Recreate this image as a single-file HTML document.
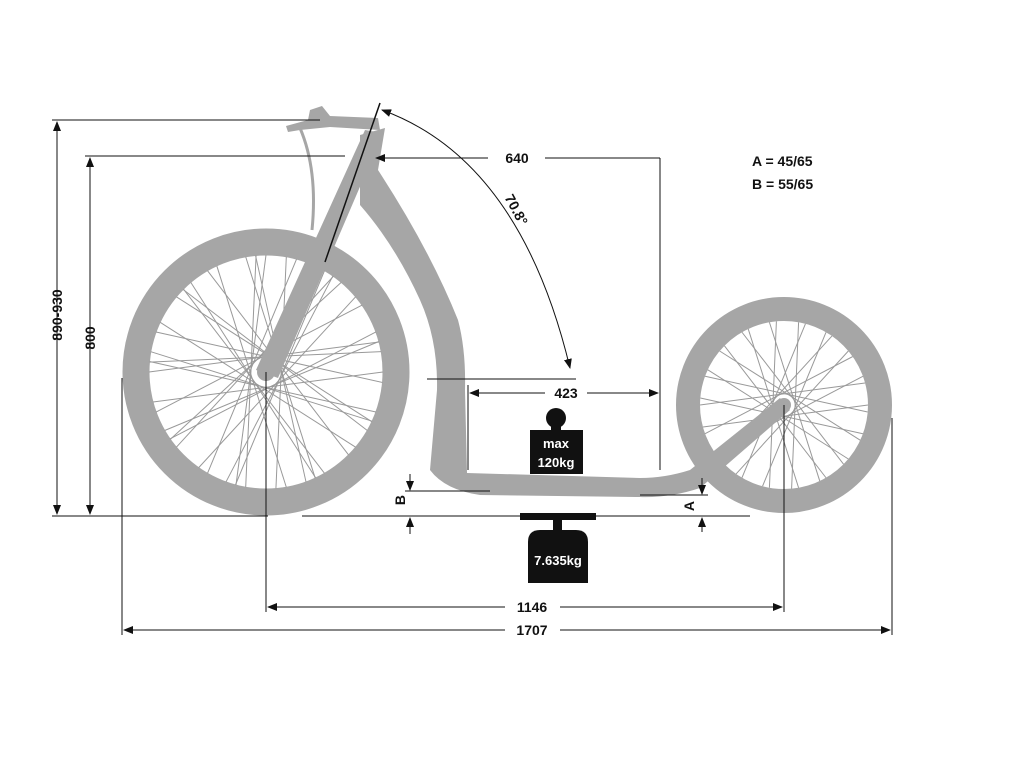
<!DOCTYPE html>
<html><head><meta charset="utf-8"><style>
html,body{margin:0;padding:0;background:#fff;width:1024px;height:768px;overflow:hidden}
svg{display:block}
text{font-family:"Liberation Sans",Arial,sans-serif;font-weight:bold;font-size:14px;fill:#111}
</style></head><body>
<svg width="1024" height="768" viewBox="0 0 1024 768">
<defs>
<marker id="ar" markerWidth="10" markerHeight="8" refX="9" refY="4" orient="auto-start-reverse" markerUnits="userSpaceOnUse">
<path d="M0,0 L10,4 L0,8 Z" fill="#111"/></marker>
<line id="sf" x1="117" y1="0" x2="-113" y2="30" stroke="#999" stroke-width="1"/>
<line id="sr" x1="84" y1="0" x2="-81" y2="22" stroke="#999" stroke-width="1"/>
</defs>
<rect width="1024" height="768" fill="#fff"/>

<!-- front wheel -->
<g transform="translate(266,372)">
<circle r="130" fill="none" stroke="#a6a6a6" stroke-width="27"/>
<g>
<use href="#sf"/><use href="#sf" transform="rotate(20)"/><use href="#sf" transform="rotate(40)"/><use href="#sf" transform="rotate(60)"/><use href="#sf" transform="rotate(80)"/><use href="#sf" transform="rotate(100)"/><use href="#sf" transform="rotate(120)"/><use href="#sf" transform="rotate(140)"/><use href="#sf" transform="rotate(160)"/><use href="#sf" transform="rotate(180)"/><use href="#sf" transform="rotate(200)"/><use href="#sf" transform="rotate(220)"/><use href="#sf" transform="rotate(240)"/><use href="#sf" transform="rotate(260)"/><use href="#sf" transform="rotate(280)"/><use href="#sf" transform="rotate(300)"/><use href="#sf" transform="rotate(320)"/><use href="#sf" transform="rotate(340)"/>
</g>
<g transform="scale(1,-1)">
<use href="#sf" transform="rotate(10)"/><use href="#sf" transform="rotate(50)"/><use href="#sf" transform="rotate(90)"/><use href="#sf" transform="rotate(130)"/><use href="#sf" transform="rotate(170)"/><use href="#sf" transform="rotate(210)"/><use href="#sf" transform="rotate(250)"/><use href="#sf" transform="rotate(290)"/><use href="#sf" transform="rotate(330)"/>
</g>
<circle r="9" fill="#a6a6a6"/>
</g>

<!-- rear wheel -->
<g transform="translate(784,405)">
<circle r="96" fill="none" stroke="#a6a6a6" stroke-width="24"/>
<g>
<use href="#sr"/><use href="#sr" transform="rotate(20)"/><use href="#sr" transform="rotate(40)"/><use href="#sr" transform="rotate(60)"/><use href="#sr" transform="rotate(80)"/><use href="#sr" transform="rotate(100)"/><use href="#sr" transform="rotate(120)"/><use href="#sr" transform="rotate(140)"/><use href="#sr" transform="rotate(160)"/><use href="#sr" transform="rotate(180)"/><use href="#sr" transform="rotate(200)"/><use href="#sr" transform="rotate(220)"/><use href="#sr" transform="rotate(240)"/><use href="#sr" transform="rotate(260)"/><use href="#sr" transform="rotate(280)"/><use href="#sr" transform="rotate(300)"/><use href="#sr" transform="rotate(320)"/><use href="#sr" transform="rotate(340)"/>
</g>
<circle r="7" fill="#a6a6a6"/>
</g>

<!-- frame -->
<g fill="#a6a6a6">
<path d="M360,135 L385,128 L378,170 Q430,250 458,320 Q466,350 465,390 L467,473 L640,478 Q665,478 690,470 L780,398 L790,410 L700,488 Q670,498 640,497 L480,495 Q445,490 430,470 L437,390 Q438,340 420,300 Q395,245 360,205 Z"/>
<!-- fork -->
<path d="M365,130 L383,133 L278,378 L256,370 Z"/>
<!-- handlebar -->
<path d="M310,110 L322,106 L330,116 L378,118 L380,130 L330,127 L300,130 L288,132 L286,126 L308,120 Z"/>
<path d="M300,128 Q318,170 312,230" fill="none" stroke="#a6a6a6" stroke-width="3"/>
</g>

<!-- dimension lines -->
<g stroke="#111" stroke-width="1" fill="none">
<line x1="52" y1="120" x2="320" y2="120"/>
<line x1="57" y1="122" x2="57" y2="514" marker-start="url(#ar)" marker-end="url(#ar)"/>
<line x1="85" y1="156" x2="345" y2="156"/>
<line x1="90" y1="158" x2="90" y2="514" marker-start="url(#ar)" marker-end="url(#ar)"/>
<line x1="52" y1="516" x2="268" y2="516"/>
<line x1="302" y1="516" x2="750" y2="516"/>
<line x1="380" y1="103" x2="325" y2="262" stroke-width="1.5"/>
<line x1="376" y1="158" x2="488" y2="158" marker-start="url(#ar)"/>
<line x1="545" y1="158" x2="660" y2="158"/>
<line x1="660" y1="158" x2="660" y2="470"/>
<path d="M382,110 Q520,160 570,368" marker-start="url(#ar)" marker-end="url(#ar)"/>
<line x1="427" y1="379" x2="576" y2="379"/>
<line x1="468" y1="385" x2="468" y2="470"/>
<line x1="470" y1="393" x2="545" y2="393" marker-start="url(#ar)"/>
<line x1="587" y1="393" x2="658" y2="393" marker-end="url(#ar)"/>
<line x1="266" y1="372" x2="266" y2="612"/>
<line x1="784" y1="405" x2="784" y2="612"/>
<line x1="268" y1="607" x2="505" y2="607" marker-start="url(#ar)"/>
<line x1="560" y1="607" x2="782" y2="607" marker-end="url(#ar)"/>
<line x1="122" y1="378" x2="122" y2="635"/>
<line x1="892" y1="418" x2="892" y2="635"/>
<line x1="124" y1="630" x2="505" y2="630" marker-start="url(#ar)"/>
<line x1="560" y1="630" x2="890" y2="630" marker-end="url(#ar)"/>
<line x1="410" y1="474" x2="410" y2="490" marker-end="url(#ar)"/>
<line x1="410" y1="534" x2="410" y2="518" marker-end="url(#ar)"/>
<line x1="405" y1="491" x2="490" y2="491"/>
<line x1="702" y1="478" x2="702" y2="494" marker-end="url(#ar)"/>
<line x1="702" y1="532" x2="702" y2="518" marker-end="url(#ar)"/>
<line x1="640" y1="495" x2="708" y2="495"/>
</g>

<!-- labels -->
<text x="0" y="0" text-anchor="middle" transform="translate(62,315) rotate(-90)">890-930</text>
<text x="0" y="0" text-anchor="middle" transform="translate(95,338) rotate(-90)">800</text>
<text x="517" y="163" text-anchor="middle">640</text>
<text x="0" y="0" text-anchor="middle" transform="translate(512,212) rotate(62)">70.8°</text>
<text x="566" y="398" text-anchor="middle">423</text>
<text x="532" y="612" text-anchor="middle">1146</text>
<text x="532" y="635" text-anchor="middle">1707</text>
<text x="0" y="0" text-anchor="middle" transform="translate(405,500) rotate(-90)">B</text>
<text x="0" y="0" text-anchor="middle" transform="translate(694,506) rotate(-90)">A</text>
<text x="752" y="166">A = 45/65</text>
<text x="752" y="189">B = 55/65</text>

<!-- weights -->
<circle cx="556" cy="418" r="10" fill="#111"/>
<rect x="551" y="422" width="10" height="8" fill="#111"/>
<rect x="530" y="430" width="53" height="44" fill="#111"/>
<text x="556" y="448" text-anchor="middle" style="fill:#fff;font-size:13px">max</text>
<text x="556" y="467" text-anchor="middle" style="fill:#fff;font-size:13px">120kg</text>
<rect x="520" y="513" width="76" height="7" fill="#111"/>
<rect x="553" y="520" width="9" height="10" fill="#111"/>
<path d="M528,583 L528,542 Q528,530 540,530 L576,530 Q588,530 588,542 L588,583 Z" fill="#111"/>
<text x="558" y="565" text-anchor="middle" style="fill:#fff;font-size:13px">7.635kg</text>
</svg>
</body></html>
